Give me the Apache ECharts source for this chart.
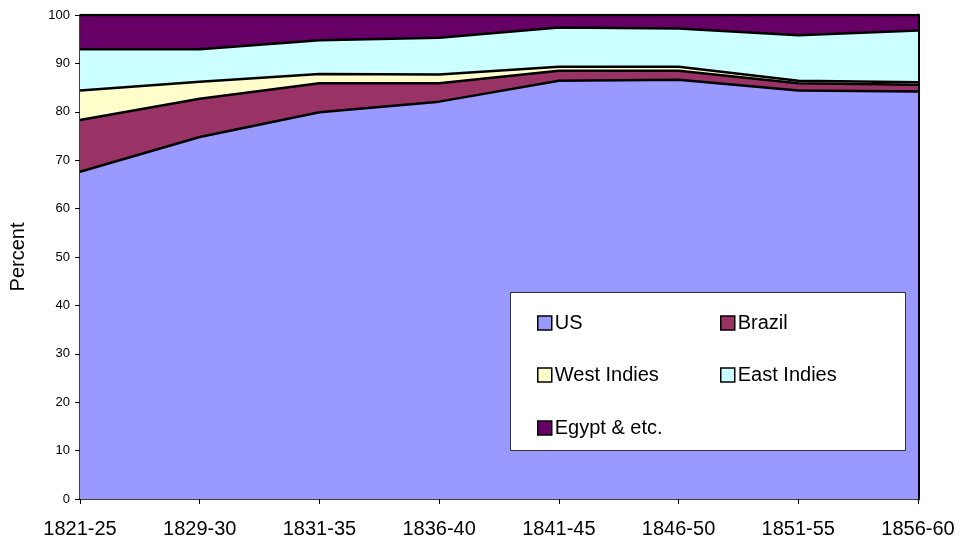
<!DOCTYPE html>
<html>
<head>
<meta charset="utf-8">
<script src="https://cdn.jsdelivr.net/npm/echarts@6/dist/echarts.min.js"></script>
<style>html,body{margin:0;padding:0;background:#fff;}#c{width:961px;height:548px;}</style>
</head>
<body>
<div id="c"></div>
<script>
const categories = ['1821-25','1829-30','1831-35','1836-40','1841-45','1846-50','1851-55','1856-60'];
const us         = [67.6, 74.8, 79.9, 82.1, 86.4, 86.6, 84.4, 84.2];
const brazil     = [10.7, 7.9, 6.0, 3.8, 2.1, 1.9, 1.5, 1.4];
const westIndies = [6.1, 3.5, 1.9, 1.8, 0.8, 0.8, 0.5, 0.5];
const eastIndies = [8.5, 6.7, 7.0, 7.6, 8.1, 7.9, 9.4, 10.7];
const egypt      = [7.1, 7.1, 5.2, 4.7, 2.6, 2.8, 4.2, 3.2];
const yTicks = [0,10,20,30,40,50,60,70,80,90,100];

const names = ['US','Brazil','West Indies','East Indies','Egypt & etc.'];
const colors = ['#9999FF','#993366','#FFFFCC','#CCFFFF','#660066'];
const datas = [us, brazil, westIndies, eastIndies, egypt];

const font = 'Arial, "Liberation Sans", sans-serif';
const chart = echarts.init(document.getElementById('c'));

const legendPos = [
  {left: 532, top: 308},
  {left: 715, top: 308},
  {left: 532, top: 360},
  {left: 715, top: 360},
  {left: 532, top: 413}
];

chart.setOption({
  animation: false,
  backgroundColor: '#fff',
  grid: {left: 80, right: 43, top: 15, bottom: 49},
  graphic: [{
    type: 'rect', left: 510, top: 292, z: 50,
    shape: {width: 395, height: 158},
    style: {fill: '#fff', stroke: '#333', lineWidth: 1}
  }],
  legend: names.map((n, i) => ({
    data: [n], left: legendPos[i].left, top: legendPos[i].top, z: 60,
    icon: 'rect', itemWidth: 14, itemHeight: 14, itemGap: 0,
    itemStyle: {borderColor: '#000', borderWidth: 1.5},
    textStyle: {fontFamily: font, fontSize: 20, color: '#000', padding: [0,0,0,-2]},
    selectedMode: false
  })),
  xAxis: {
    type: 'category', data: categories, boundaryGap: false,
    axisLine: {lineStyle: {color: '#000', width: 1.5}},
    axisTick: {show: true, length: 5, lineStyle: {color: '#000'}},
    axisLabel: {fontFamily: font, fontSize: 20, color: '#000', margin: 20},
    splitLine: {show: false}
  },
  yAxis: [{
    type: 'value', min: 0, max: 100, interval: 10,
    name: 'Percent', nameLocation: 'middle', nameGap: 52,
    nameTextStyle: {fontFamily: font, fontSize: 20, color: '#000'},
    axisLine: {show: true, lineStyle: {color: '#000', width: 1.5}},
    axisTick: {show: true, length: 5, lineStyle: {color: '#000'}},
    axisLabel: {fontFamily: font, fontSize: 13, color: '#000', margin: 10,
      formatter: v => yTicks.includes(v) ? String(v) : ''},
    splitLine: {show: false}
  }, {
    type: 'value', min: 0, max: 100, position: 'right',
    axisLine: {show: true, lineStyle: {color: '#000', width: 3}},
    axisTick: {show: false}, axisLabel: {show: false}, splitLine: {show: false}
  }],
  series: names.map((n, i) => ({
    name: n, type: 'line', stack: 'total', data: datas[i],
    symbol: 'none', showSymbol: false,
    itemStyle: {color: colors[i]},
    lineStyle: {color: '#000', width: 2.5},
    areaStyle: {color: colors[i], opacity: 1},
    z: 2
  }))
});
</script>
</body>
</html>
